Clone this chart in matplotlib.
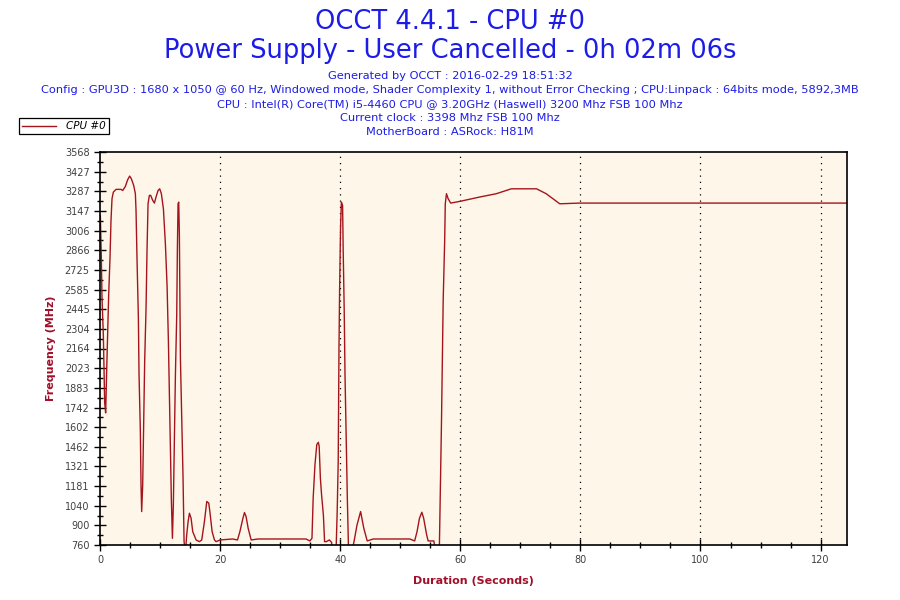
import matplotlib
matplotlib.use("Agg")
import matplotlib.pyplot as plt
import numpy as np

# CPU #0 frequency trace (seconds, MHz)
seconds = [
    0.0, 0.06, 0.22, 0.33, 0.56, 0.67, 0.78, 0.94, 1.11, 1.28, 1.44, 1.67, 1.83,
    2.0, 2.22, 2.67, 3.5, 3.78, 4.22, 4.61, 4.94, 5.22, 5.61, 5.89, 6.0, 6.17,
    6.39, 6.5, 6.72, 6.83, 6.94, 7.11, 7.28, 7.44, 7.67, 7.83, 8.0, 8.22, 8.44,
    8.78, 9.06, 9.33, 9.67, 9.94, 10.22, 10.56, 10.89, 11.17, 11.39, 11.56,
    11.72, 11.89, 12.06, 12.22, 12.39, 12.56, 12.78, 12.89, 13.0, 13.11, 13.22,
    13.39, 13.61, 13.83, 14.0, 14.22, 14.44, 14.67, 14.89, 15.17, 15.44, 16.0,
    16.56, 16.94, 17.39, 17.78, 18.11, 18.33, 18.67, 19.06, 19.33, 20.0, 22.1,
    22.9, 23.3, 23.8, 24.06, 24.33, 24.67, 25.17, 26.3, 31.6, 34.3, 34.95, 35.3,
    35.5, 35.8, 36.1, 36.36, 36.5, 36.7, 36.9, 37.2, 37.4, 37.7, 38.2, 38.56,
    38.8, 39.3, 39.5, 39.67, 39.8, 39.9, 40.06, 40.2, 40.4, 40.5, 40.67, 40.8,
    41.0, 41.2, 41.4, 41.9, 42.3, 42.8, 43.4, 43.93, 44.5, 45.5, 51.6, 52.4,
    52.8, 53.2, 53.6, 53.9, 54.4, 54.65, 55.6, 55.9, 56.5, 56.7, 56.87, 57.0,
    57.15, 57.4, 57.5, 57.7, 57.98, 58.4, 59.9, 63.2, 66.0, 68.5, 72.7, 74.3,
    76.56, 79.9, 124.4,
]
freq_mhz = [
    3110, 3114, 2815, 2529, 2254, 2003, 1776, 1704, 2003, 2266, 2541, 2815, 3078,
    3234, 3281, 3301, 3301, 3293, 3322, 3370, 3396, 3377, 3329, 3270, 3150, 2792,
    2385, 1979, 1573, 1190, 999, 1190, 1644, 2074, 2457, 2863, 3198, 3258, 3258,
    3222, 3203, 3246, 3293, 3305, 3270, 3162, 2911, 2612, 2218, 1836,
    1441, 1071, 808, 1059, 1501, 1979, 2409, 2887, 3198, 3210, 2971,
    2098, 1668, 1238, 784, 700, 832, 927, 987, 951, 856, 796,
    784, 796, 927, 1071, 1059, 987, 856, 796, 784, 796, 803,
    796, 856, 951, 992, 963, 880, 796, 803, 803, 803, 789, 808,
    1095, 1334, 1477, 1494, 1465, 1238, 1118, 975, 784, 784, 796, 779,
    700, 700, 999, 1357, 2170, 2576, 3030, 3210, 3186, 2863, 2433, 1979,
    1525, 1071, 700, 700, 784, 903, 999, 880, 789, 803, 803, 789,
    856, 951, 994, 951, 832, 789, 789, 700, 700, 1190, 1644, 2050,
    2505, 2935, 3198, 3270, 3234, 3203, 3215, 3246, 3270, 3305, 3305, 3270,
    3198, 3203, 3203,
]

y_ticks = [760, 900, 1040, 1181, 1321, 1462, 1602, 1742, 1883, 2023, 2164,
           2304, 2445, 2585, 2725, 2866, 3006, 3147, 3287, 3427, 3568]
x_ticks = [0, 20, 40, 60, 80, 100, 120]

title_lines = ["OCCT 4.4.1 - CPU #0",
               "Power Supply - User Cancelled - 0h 02m 06s"]
info_lines = [
    "Generated by OCCT : 2016-02-29 18:51:32",
    "Config : GPU3D : 1680 x 1050 @ 60 Hz, Windowed mode, Shader Complexity 1, "
    "without Error Checking ; CPU:Linpack : 64bits mode, 5892,3MB",
    "CPU : Intel(R) Core(TM) i5-4460 CPU @ 3.20GHz (Haswell) 3200 Mhz FSB 100 Mhz",
    "Current clock : 3398 Mhz FSB 100 Mhz",
    "MotherBoard : ASRock: H81M",
]

line_red = "#a5141c"
label_red = "#a0102a"
title_blue = "#1c1ce6"

plt.rcParams['font.family'] = ['DejaVu Sans']

fig = plt.figure(figsize=(9, 6), dpi=100, facecolor='white')
ax = fig.add_axes([100 / 900, 1 - 545 / 600, 747 / 900, 393 / 600])
ax.set_facecolor('#fef7e9')

ax.plot(seconds, freq_mhz, color=line_red, linewidth=1.0, label='CPU #0',
        clip_on=True)

ax.set_xlim(0, 124.4)
ax.set_ylim(760, 3568)

ax.set_xticks(x_ticks)
ax.set_xticks(np.arange(0, 125, 5), minor=True)
ax.set_yticks(y_ticks)
ax.set_yticklabels([str(v) for v in y_ticks])
ax.set_yticks([(a + b) / 2 for a, b in zip(y_ticks[:-1], y_ticks[1:])],
              minor=True)

ax.tick_params(axis='both', which='major', direction='inout', length=8,
               width=1, labelsize=7, labelcolor='#404040', color='black')
ax.tick_params(axis='both', which='minor', direction='inout', length=4,
               width=1, color='black')
ax.tick_params(axis='x', which='major', pad=3)

for xv in x_ticks[1:]:
    ax.axvline(xv, color='black', linestyle=(0, (1, 4)), linewidth=0.9,
               zorder=0.5)

for s in ax.spines.values():
    s.set_color('black')
    s.set_linewidth(1.2)

ax.set_xlabel("Duration (Seconds)", color=label_red, fontsize=8,
              fontweight='bold', labelpad=8)
ax.set_ylabel("Frequency (MHz)", color=label_red, fontsize=8,
              fontweight='bold', labelpad=6)

fig.text(0.5, 1 - 22 / 600, title_lines[0], ha='center', va='center',
         fontsize=18.5, color=title_blue)
fig.text(0.5, 1 - 51 / 600, title_lines[1], ha='center', va='center',
         fontsize=18.5, color=title_blue)
for i, line in enumerate(info_lines):
    fig.text(0.5, 1 - (76 + 14 * i) / 600, line, ha='center', va='center',
             fontsize=8.2, color=title_blue)

leg = ax.legend(loc='upper left', bbox_to_anchor=(14 / 900, 1 - 113 / 600),
                bbox_transform=fig.transFigure, frameon=True, fancybox=False,
                framealpha=1, edgecolor='black', borderpad=0.3,
                handlelength=3.2, handletextpad=1.0,
                prop={'size': 7.5, 'style': 'italic'})
leg.get_frame().set_linewidth(0.9)

fig.savefig("out.png", dpi=100, facecolor='white')
